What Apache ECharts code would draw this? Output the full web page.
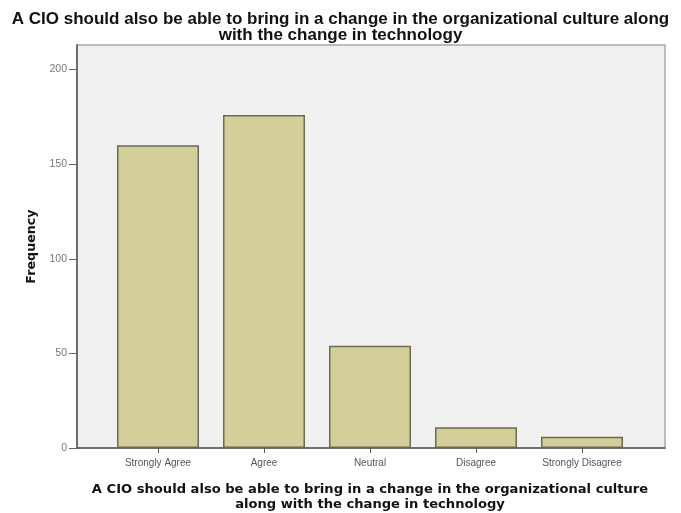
<!DOCTYPE html>
<html>
<head>
<meta charset="utf-8">
<script src="https://cdn.jsdelivr.net/npm/echarts@6/dist/echarts.min.js"></script>
<style>html,body{margin:0;padding:0;background:#fff;}#c{width:681px;height:513px;}</style>
</head>
<body>
<div id="c"></div>
<script>
const categories = ['Strongly Agree', 'Agree', 'Neutral', 'Disagree', 'Strongly Disagree'];
const frequency = [160, 176, 54, 11, 6];
const yTicks = [0, 50, 100, 150, 200];
const titleText = 'A CIO should also be able to bring in a change in the organizational culture along\nwith the change in technology';
const xName = 'A CIO should also be able to bring in a change in the organizational culture\nalong with the change in technology';
const yName = 'Frequency';

const chart = echarts.init(document.getElementById('c'), null, {renderer: 'canvas'});
const yMin = 0, yMax = 213;
chart.setOption({
  backgroundColor: '#ffffff',
  animation: false,
  title: {
    text: titleText,
    left: 'center',
    top: 6,
    textStyle: {fontFamily: 'Liberation Sans', fontWeight: 'bold', fontSize: 17, color: '#111', lineHeight: 16}
  },
  grid: [
    {left: 77, right: 16, top: 45, bottom: 65, show: true, backgroundColor: '#f0f0f0', borderColor: '#a8a8a8', borderWidth: 1.5, containLabel: false, outerBoundsMode: 'none'},
    {left: 105, right: 46, top: 45, bottom: 65, containLabel: false, outerBoundsMode: 'none'}
  ],
  xAxis: [
    {gridIndex: 0, type: 'category', data: [''], axisLine: {show: true, lineStyle: {color: '#555', width: 1.5}}, axisTick: {show: false}, axisLabel: {show: false}},
    {gridIndex: 1, type: 'category', data: categories,
     axisLine: {show: false}, axisTick: {show: true, alignWithLabel: true, length: 5, lineStyle: {color: '#555'}},
     axisLabel: {fontFamily: 'Liberation Sans', fontSize: 10, color: '#555', margin: 10},
     name: xName, nameLocation: 'middle', nameGap: 34,
     nameTextStyle: {fontFamily: 'DejaVu Sans', fontWeight: 'bold', fontSize: 13.1, color: '#111', lineHeight: 15}
    }
  ],
  yAxis: [
    {gridIndex: 0, type: 'value', min: yMin, max: yMax,
     axisLine: {show: true, lineStyle: {color: '#555', width: 1.5}},
     axisTick: {show: true, length: 8, lineStyle: {color: '#666'}, customValues: yTicks},
     axisLabel: {fontFamily: 'Liberation Sans', fontSize: 10.5, color: '#777', margin: 10, customValues: yTicks},
     splitLine: {show: false},
     name: yName, nameLocation: 'middle', nameGap: 39, nameRotate: 90,
     nameTextStyle: {fontFamily: 'DejaVu Sans', fontWeight: 'bold', fontSize: 12.7, color: '#111'}
    },
    {gridIndex: 1, type: 'value', min: yMin, max: yMax, show: false, splitLine: {show: false}}
  ],
  series: [{
    type: 'bar',
    xAxisIndex: 1, yAxisIndex: 1,
    data: frequency,
    barWidth: 82,
    itemStyle: {color: '#d3cf98', borderColor: '#6c6a50', borderWidth: 1.5}
  }]
});
</script>
</body>
</html>
